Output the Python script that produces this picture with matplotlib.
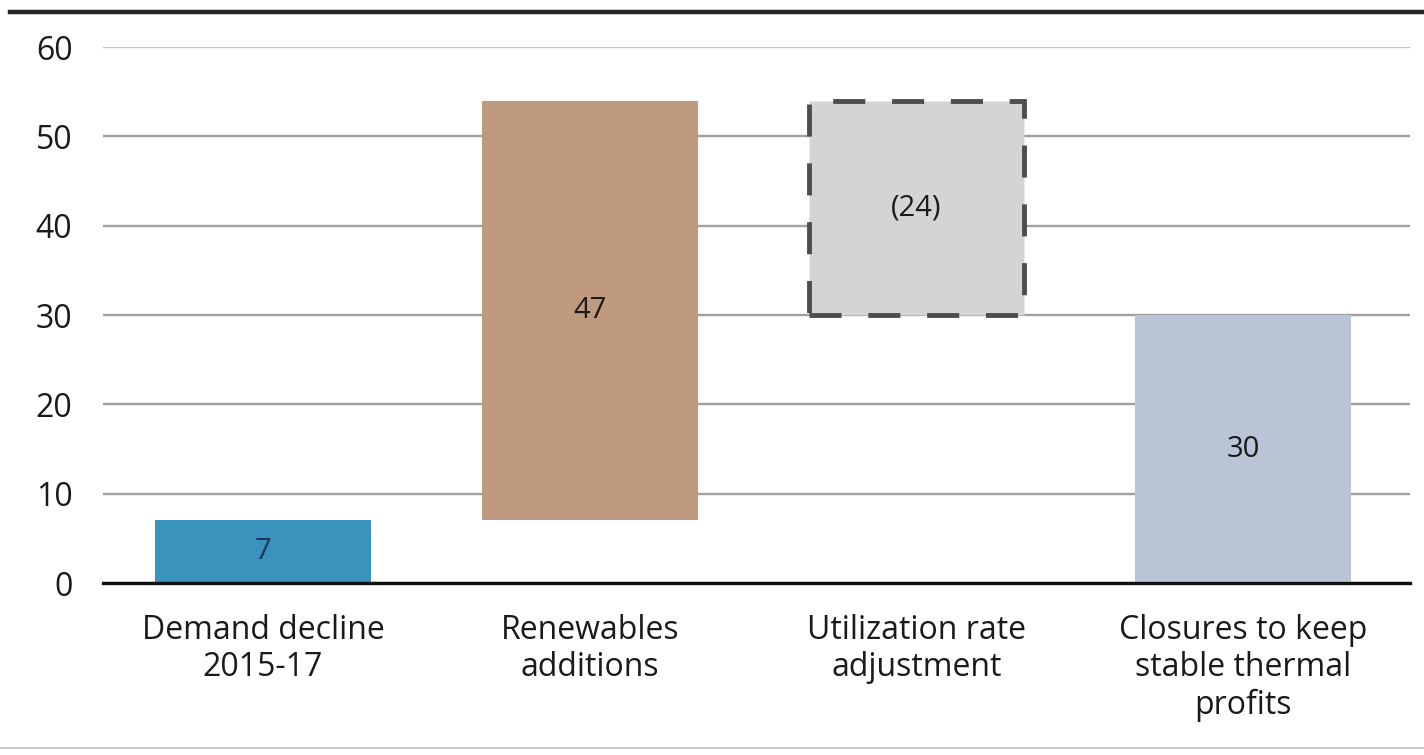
import matplotlib.pyplot as plt
from matplotlib.lines import Line2D

categories = ['Demand decline\n2015-17', 'Renewables\nadditions',
              'Utilization rate\nadjustment', 'Closures to keep\nstable thermal\nprofits']
values = [7, 47, -24, 30]
labels = ['7', '47', '(24)', '30']
colors = ['#3a93bd', '#bf9a7e', '#d4d4d4', '#b9c5d6']
label_colors = ['#1d3557', '#1a1a1a', '#1a1a1a', '#1a1a1a']

# waterfall bottoms: last bar is a total from zero
bottoms = []
heights = []
running = 0
for i, v in enumerate(values):
    if i == len(values) - 1:
        bottoms.append(0)
        heights.append(v)
    elif v >= 0:
        bottoms.append(running)
        heights.append(v)
        running += v
    else:
        running += v
        bottoms.append(running)
        heights.append(-v)

plt.rcParams['font.family'] = ['Open Sans', 'DejaVu Sans']

fig = plt.figure(figsize=(14.24, 7.55), dpi=100)
ax = fig.add_axes([0.0723, 0.2278, 0.9177, 0.7099])

x = range(len(categories))
bars = ax.bar(x, heights, bottom=bottoms, width=0.66, color=colors, zorder=3)
bars[2].set_edgecolor('#4d4d4d')
bars[2].set_linewidth(3.5)
bars[2].set_linestyle((0, (6.6, 5.5)))

for i, b in enumerate(bars):
    ax.text(b.get_x() + b.get_width() / 2, bottoms[i] + heights[i] / 2, labels[i],
            ha='center', va='center', fontsize=21, color=label_colors[i], zorder=4)

ax.set_xlim(-0.49, 3.51)
ax.set_ylim(0, 60)
ax.set_yticks(range(0, 61, 10))
ax.set_xticks(list(x))
ax.set_xticklabels(categories, fontsize=23, color='#1a1a1a', linespacing=1.18)
ax.tick_params(axis='y', length=0, pad=22, labelsize=23, labelcolor='#1a1a1a')
ax.tick_params(axis='x', length=0, pad=22)
ax.yaxis.grid(True, color='#a0a0a0', linewidth=1.7, zorder=1)
ax.get_ygridlines()[-1].set_color('#c4c4c4')
for s in ['top', 'right', 'left']:
    ax.spines[s].set_visible(False)
ax.spines['bottom'].set_color('#111111')
ax.spines['bottom'].set_linewidth(2.4)
ax.spines['bottom'].set_zorder(5)

# frame lines above and below the chart
fig.add_artist(Line2D([0.007, 1.0], [0.984, 0.984], color='#222222', linewidth=3.2))
fig.add_artist(Line2D([0.0, 1.0], [0.009, 0.009], color='#cccccc', linewidth=1.5))

fig.savefig('out.png', dpi=100)
